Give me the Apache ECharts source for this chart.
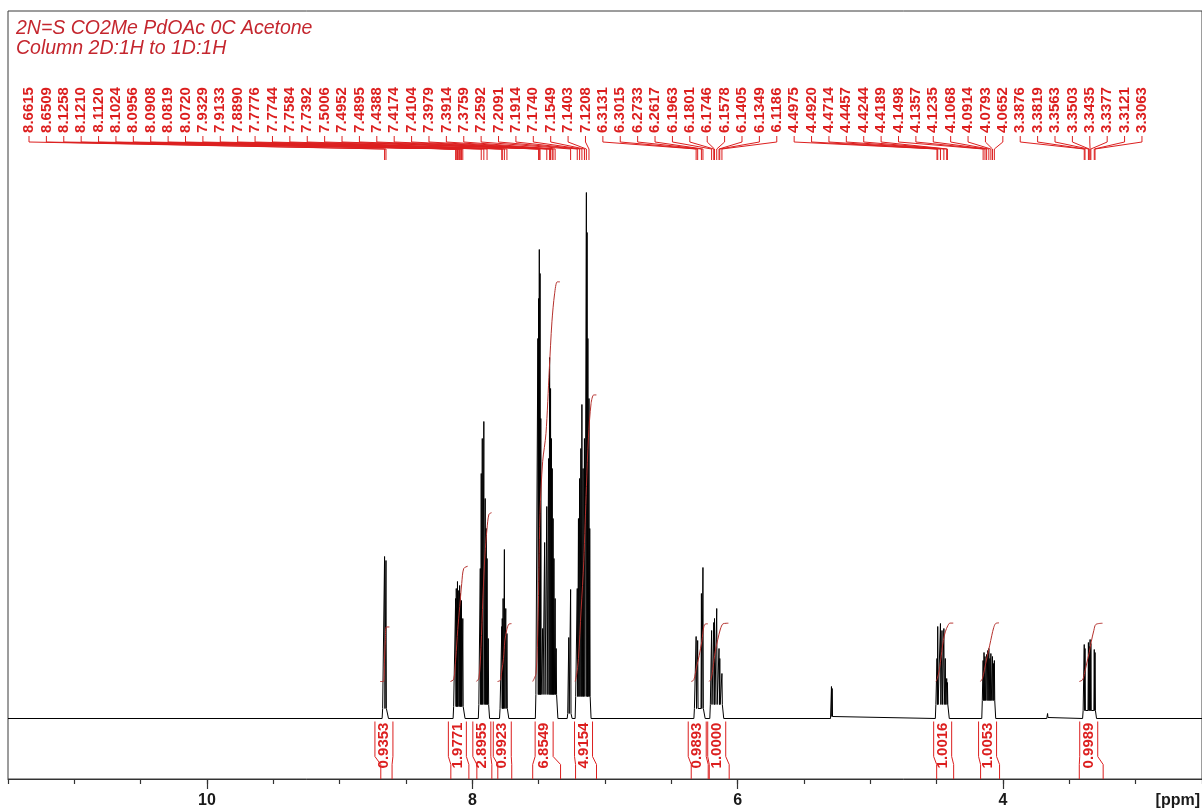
<!DOCTYPE html>
<html>
<head>
<meta charset="utf-8">
<script src="https://cdn.jsdelivr.net/npm/echarts@6/dist/echarts.min.js"></script>
<style>
  html, body { margin: 0; padding: 0; background: #ffffff; }
  #chart { width: 1202px; height: 812px; }
</style>
</head>
<body>
<div id="chart"></div>
<script>
// ---- Axis ----
const axisMinPpm = 2.5;
const axisMaxPpm = 11.5;
const majorTickValues = [4, 6, 8, 10];

// ---- Peak-picked lines (labelled, ppm) ----
const peakList = [
  8.6615, 8.6509, 8.1258, 8.1210, 8.1120, 8.1024, 8.0956, 8.0908, 8.0819, 8.0720,
  7.9329, 7.9133, 7.8890, 7.7776, 7.7744, 7.7584, 7.7392, 7.5006, 7.4952, 7.4895,
  7.4388, 7.4174, 7.4104, 7.3979, 7.3914, 7.3759, 7.2592, 7.2091, 7.1914, 7.1740,
  7.1549, 7.1403, 7.1208,
  6.3131, 6.3015, 6.2733, 6.2617, 6.1963, 6.1801, 6.1746, 6.1578, 6.1405, 6.1349, 6.1186,
  4.4975, 4.4920, 4.4714, 4.4457, 4.4244, 4.4189, 4.1498, 4.1357, 4.1235, 4.1068,
  4.0914, 4.0793, 4.0652,
  3.3876, 3.3819, 3.3563, 3.3503, 3.3435, 3.3377, 3.3121, 3.3063
];

// ---- Spectrum lines per multiplet: positions (ppm) and heights ----
const m1Ppm  = [8.6615, 8.6509];
const m1Int  = [162, 158];
const m2Ppm  = [8.1258, 8.1210, 8.1170, 8.1120, 8.1024, 8.0956, 8.0908, 8.0870, 8.0819, 8.0720];
const m2Int  = [120, 130, 110, 137, 128, 133, 125, 115, 118, 100];
const m3Ppm  = [7.9400, 7.9329, 7.9250, 7.9133, 7.9030, 7.8950, 7.8890, 7.8800];
const m3Int  = [150, 245, 280, 297, 220, 190, 160, 80];
const m4Ppm  = [7.7776, 7.7744, 7.7680, 7.7584, 7.7480, 7.7392];
const m4Int  = [92, 100, 120, 169, 110, 85];
const m5Ppm  = [7.5060, 7.5006, 7.4952, 7.4895, 7.4840, 7.4700, 7.4550, 7.4388, 7.4250,
                7.4174, 7.4104, 7.4040, 7.3979, 7.3914, 7.3850, 7.3759, 7.3680];
const m5Int  = [380, 420, 469, 445, 300, 90, 176, 212, 260, 361, 330, 280, 250, 200, 160, 120, 70];
const m6Ppm  = [7.2730, 7.2592];
const m6Int  = [81, 129];
const m7Ppm  = [7.2091, 7.2000, 7.1914, 7.1820, 7.1740, 7.1650, 7.1549, 7.1403, 7.1350,
                7.1290, 7.1208, 7.1150];
const m7Int  = [130, 200, 240, 270, 314, 250, 280, 526, 486, 380, 320, 190];
const m8Ppm  = [6.3131, 6.3015, 6.2733, 6.2617];
const m8Int  = [82, 78, 125, 151];
const m9Ppm  = [6.1963, 6.1801, 6.1746, 6.1578, 6.1405, 6.1349, 6.1186];
const m9Int  = [88, 96, 100, 110, 70, 60, 45];
const m10Ppm = [5.2930, 5.2880];
const m10Int = [32, 30];
const m11Ppm = [4.4975, 4.4920, 4.4714, 4.4600, 4.4457, 4.4350, 4.4244, 4.4189];
const m11Int = [60, 92, 95, 88, 90, 60, 40, 36];
const m12Ppm = [4.1498, 4.1430, 4.1357, 4.1235, 4.1150, 4.1068, 4.0990, 4.0914, 4.0793, 4.0720, 4.0652];
const m12Int = [58, 66, 62, 64, 68, 70, 60, 65, 62, 55, 58];
const m13Ppm = [3.6640];
const m13Int = [5];
const m14Ppm = [3.3876, 3.3819, 3.3563, 3.3503, 3.3435, 3.3377, 3.3121, 3.3063];
const m14Int = [74, 70, 76, 72, 79, 75, 69, 66];

// multiplet extents (high ppm, low ppm) and the level of the unresolved base
const multipletEdges = [
  [8.680, 8.632], [8.145, 8.055], [7.955, 7.870], [7.795, 7.725], [7.525, 7.355],
  [7.285, 7.248], [7.225, 7.105], [6.330, 6.245], [6.210, 6.105], [5.300, 5.280],
  [4.510, 4.405], [4.160, 4.055], [3.670, 3.658], [3.400, 3.295]
];
const multipletBase = [10, 12, 14, 10, 24, 5, 22, 10, 14, 2, 14, 18, 1, 8];

// ---- Integrals ----
const integralFrom  = [8.690, 8.162, 7.966, 7.808, 7.545, 7.222, 6.350, 6.214, 4.500, 4.169, 3.425];
const integralTo    = [8.605, 8.026, 7.853, 7.703, 7.335, 7.064, 6.222, 6.064, 4.372, 4.026, 3.245];
const integralValue = [0.9353, 1.9771, 2.8955, 0.9923, 6.8549, 4.9154, 0.9893, 1.0000, 1.0016, 1.0053, 0.9989];

// integral trace shapes: positions (ppm) and the fraction of the total reached there
const integralShapePpm = [
  [8.695, 8.670, 8.662, 8.656, 8.648, 8.625],
  [8.165, 8.140, 8.125, 8.110, 8.095, 8.080, 8.065, 8.035],
  [7.970, 7.950, 7.935, 7.920, 7.905, 7.890, 7.875, 7.855],
  [7.810, 7.790, 7.778, 7.765, 7.755, 7.740, 7.725, 7.705],
  [7.545, 7.520, 7.505, 7.490, 7.470, 7.445, 7.420, 7.400, 7.380, 7.360, 7.340],
  [7.225, 7.215, 7.200, 7.180, 7.160, 7.140, 7.125, 7.105, 7.085, 7.065],
  [6.350, 6.330, 6.310, 6.290, 6.270, 6.255, 6.240, 6.225],
  [6.215, 6.200, 6.185, 6.170, 6.150, 6.130, 6.110, 6.070],
  [4.505, 4.495, 4.480, 4.465, 4.450, 4.435, 4.415, 4.400, 4.375],
  [4.170, 4.155, 4.140, 4.120, 4.100, 4.085, 4.070, 4.055, 4.030],
  [3.425, 3.400, 3.385, 3.370, 3.350, 3.335, 3.315, 3.300, 3.250]
];
const integralShapeFrac = [
  [0, 0, 0.4, 0.75, 1, 1],
  [0, 0.02, 0.2, 0.45, 0.65, 0.85, 0.98, 1],
  [0, 0.02, 0.2, 0.5, 0.75, 0.9, 0.99, 1],
  [0, 0.02, 0.18, 0.4, 0.7, 0.9, 0.99, 1],
  [0, 0.02, 0.15, 0.42, 0.55, 0.62, 0.78, 0.9, 0.97, 1, 1],
  [0, 0.02, 0.08, 0.25, 0.42, 0.68, 0.85, 0.97, 1, 1],
  [0, 0.03, 0.25, 0.45, 0.7, 0.95, 1, 1],
  [0, 0.05, 0.25, 0.5, 0.72, 0.9, 0.99, 1],
  [0, 0.05, 0.2, 0.45, 0.7, 0.85, 0.96, 1, 1],
  [0, 0.05, 0.2, 0.42, 0.62, 0.78, 0.92, 0.99, 1],
  [0, 0.03, 0.15, 0.3, 0.5, 0.68, 0.88, 0.98, 1]
];

// ---- Styling / layout constants ----
const RED = '#dc1f1f';
const INT_RED = '#b5302c';
const TITLE_RED = '#c4262e';
const FONT = '"Liberation Sans", Arial, sans-serif';
const LINE_HALF_WIDTH = 0.003;   // ppm half-width of a drawn line
const INT_BASE = 37;             // integral traces start this far above the baseline
const INT_SCALE = 58.3;          // trace height per integral unit
const LABEL_X0 = 29;             // first peak label (px)
const LABEL_STEP = 17.39;        // spacing of peak labels (px)

const multiplets = [
  [m1Ppm, m1Int], [m2Ppm, m2Int], [m3Ppm, m3Int], [m4Ppm, m4Int], [m5Ppm, m5Int],
  [m6Ppm, m6Int], [m7Ppm, m7Int], [m8Ppm, m8Int], [m9Ppm, m9Int], [m10Ppm, m10Int],
  [m11Ppm, m11Int], [m12Ppm, m12Int], [m13Ppm, m13Int], [m14Ppm, m14Int]
];

// Assemble the trace: flat baseline, each multiplet as a raised base carrying its lines
function buildSpectrum() {
  const pts = [[axisMaxPpm, 0]];
  multiplets.forEach(function (m, k) {
    const ppm = m[0], h = m[1];
    const hi = multipletEdges[k][0], lo = multipletEdges[k][1];
    const base = multipletBase[k];
    pts.push([hi, 0], [hi - 0.004, base]);
    ppm.forEach(function (p, i) {
      pts.push([p + LINE_HALF_WIDTH, base], [p, h[i]], [p - LINE_HALF_WIDTH, base]);
    });
    pts.push([lo + 0.004, base], [lo, 0]);
  });
  pts.push([axisMinPpm, 0]);
  return pts;
}

const integralSeries = integralValue.map(function (v, k) {
  return {
    type: 'line',
    silent: true,
    showSymbol: false,
    smooth: 0.3,
    z: 4,
    lineStyle: { color: INT_RED, width: 1 },
    data: integralShapePpm[k].map(function (p, j) {
      return [p, INT_BASE + v * INT_SCALE * integralShapeFrac[k][j]];
    })
  };
});

const chart = echarts.init(document.getElementById('chart'), null, { renderer: 'canvas' });

chart.setOption({
  animation: false,
  backgroundColor: '#ffffff',
  grid: {
    left: 8, right: -3, top: 11, bottom: 33,
    show: true, borderColor: '#3a3a3a', borderWidth: 1, backgroundColor: 'transparent'
  },
  xAxis: [
    {
      type: 'value', inverse: true, min: axisMinPpm, max: axisMaxPpm, interval: 0.5,
      position: 'bottom',
      axisLine: { show: true, onZero: false, lineStyle: { color: '#333333', width: 1 } },
      axisTick: { show: true, length: 5, lineStyle: { color: '#333333', width: 1.2 } },
      axisLabel: { show: false },
      splitLine: { show: false }
    },
    {
      type: 'value', inverse: true, min: axisMinPpm, max: axisMaxPpm,
      position: 'bottom',
      axisLine: { show: false, onZero: false },
      axisTick: { show: true, length: 10, customValues: majorTickValues,
                  lineStyle: { color: '#333333', width: 1.2 } },
      axisLabel: { show: true, customValues: majorTickValues, margin: 14,
                   fontFamily: FONT, fontWeight: 'bold', fontSize: 16, color: '#1a1a1a' },
      splitLine: { show: false }
    }
  ],
  yAxis: { type: 'value', min: -60.5, max: 707.5, show: false },
  graphic: [
    { type: 'text', left: 16, top: 19,
      style: { text: '2N=S CO2Me PdOAc 0C Acetone', fill: TITLE_RED,
               font: 'italic 19.5px ' + FONT } },
    { type: 'text', left: 16, top: 39,
      style: { text: 'Column 2D:1H to 1D:1H', fill: TITLE_RED,
               font: 'italic 19.5px ' + FONT } },
    { type: 'text', right: 2, top: 793,
      style: { text: '[ppm]', fill: '#1a1a1a', font: 'bold 16px ' + FONT } }
  ],
  series: [
    {
      type: 'line',
      name: 'spectrum',
      silent: true,
      showSymbol: false,
      z: 3,
      lineStyle: { color: '#000000', width: 1 },
      data: buildSpectrum()
    }
  ].concat(integralSeries).concat([
    {
      // peak labels with their connectors down to the line positions
      type: 'custom',
      silent: true,
      clip: false,
      z: 5,
      data: peakList.map(function (p, i) { return [p, 0, i]; }),
      encode: { x: 0, y: 1 },
      renderItem: function (params, api) {
        const xp = api.coord([api.value(0), 0])[0];
        const xl = LABEL_X0 + api.value(2) * LABEL_STEP;
        return {
          type: 'group',
          children: [
            { type: 'text', x: xl, y: 110, rotation: Math.PI / 2,
              style: { text: api.value(0).toFixed(4), fill: RED,
                       font: 'bold 15px ' + FONT, align: 'center', verticalAlign: 'middle' } },
            { type: 'polyline',
              shape: { points: [[xl, 136], [xl, 142], [xp, 149], [xp, 160]] },
              style: { stroke: RED, lineWidth: 1, fill: 'none' } }
          ]
        };
      }
    },
    {
      // integral values below the baseline with their region brackets
      type: 'custom',
      silent: true,
      clip: false,
      z: 5,
      data: integralFrom.map(function (a, k) { return [a, integralTo[k], integralValue[k]]; }),
      encode: { x: [0, 1], y: 2 },
      renderItem: function (params, api) {
        const xa = api.coord([api.value(0), 0])[0];
        const xb = api.coord([api.value(1), 0])[0];
        const yb = api.coord([0, 0])[1];
        const ya = api.coord([0, -60.5])[1];
        const cx = (xa + xb) / 2 - 2.5;
        const bl = cx - 9, br = cx + 9;
        return {
          type: 'group',
          children: [
            { type: 'polyline',
              shape: { points: [[bl, yb + 3], [bl, yb + 38], [xa, yb + 46], [xa, ya]] },
              style: { stroke: RED, lineWidth: 1, fill: 'none' } },
            { type: 'polyline',
              shape: { points: [[br, yb + 3], [br, yb + 38], [xb, yb + 46], [xb, ya]] },
              style: { stroke: RED, lineWidth: 1, fill: 'none' } },
            { type: 'text', x: cx, y: yb + 27, rotation: Math.PI / 2,
              style: { text: api.value(2).toFixed(4), fill: RED,
                       font: 'bold 15px ' + FONT, align: 'center', verticalAlign: 'middle' } }
          ]
        };
      }
    }
  ])
});
</script>
</body>
</html>
